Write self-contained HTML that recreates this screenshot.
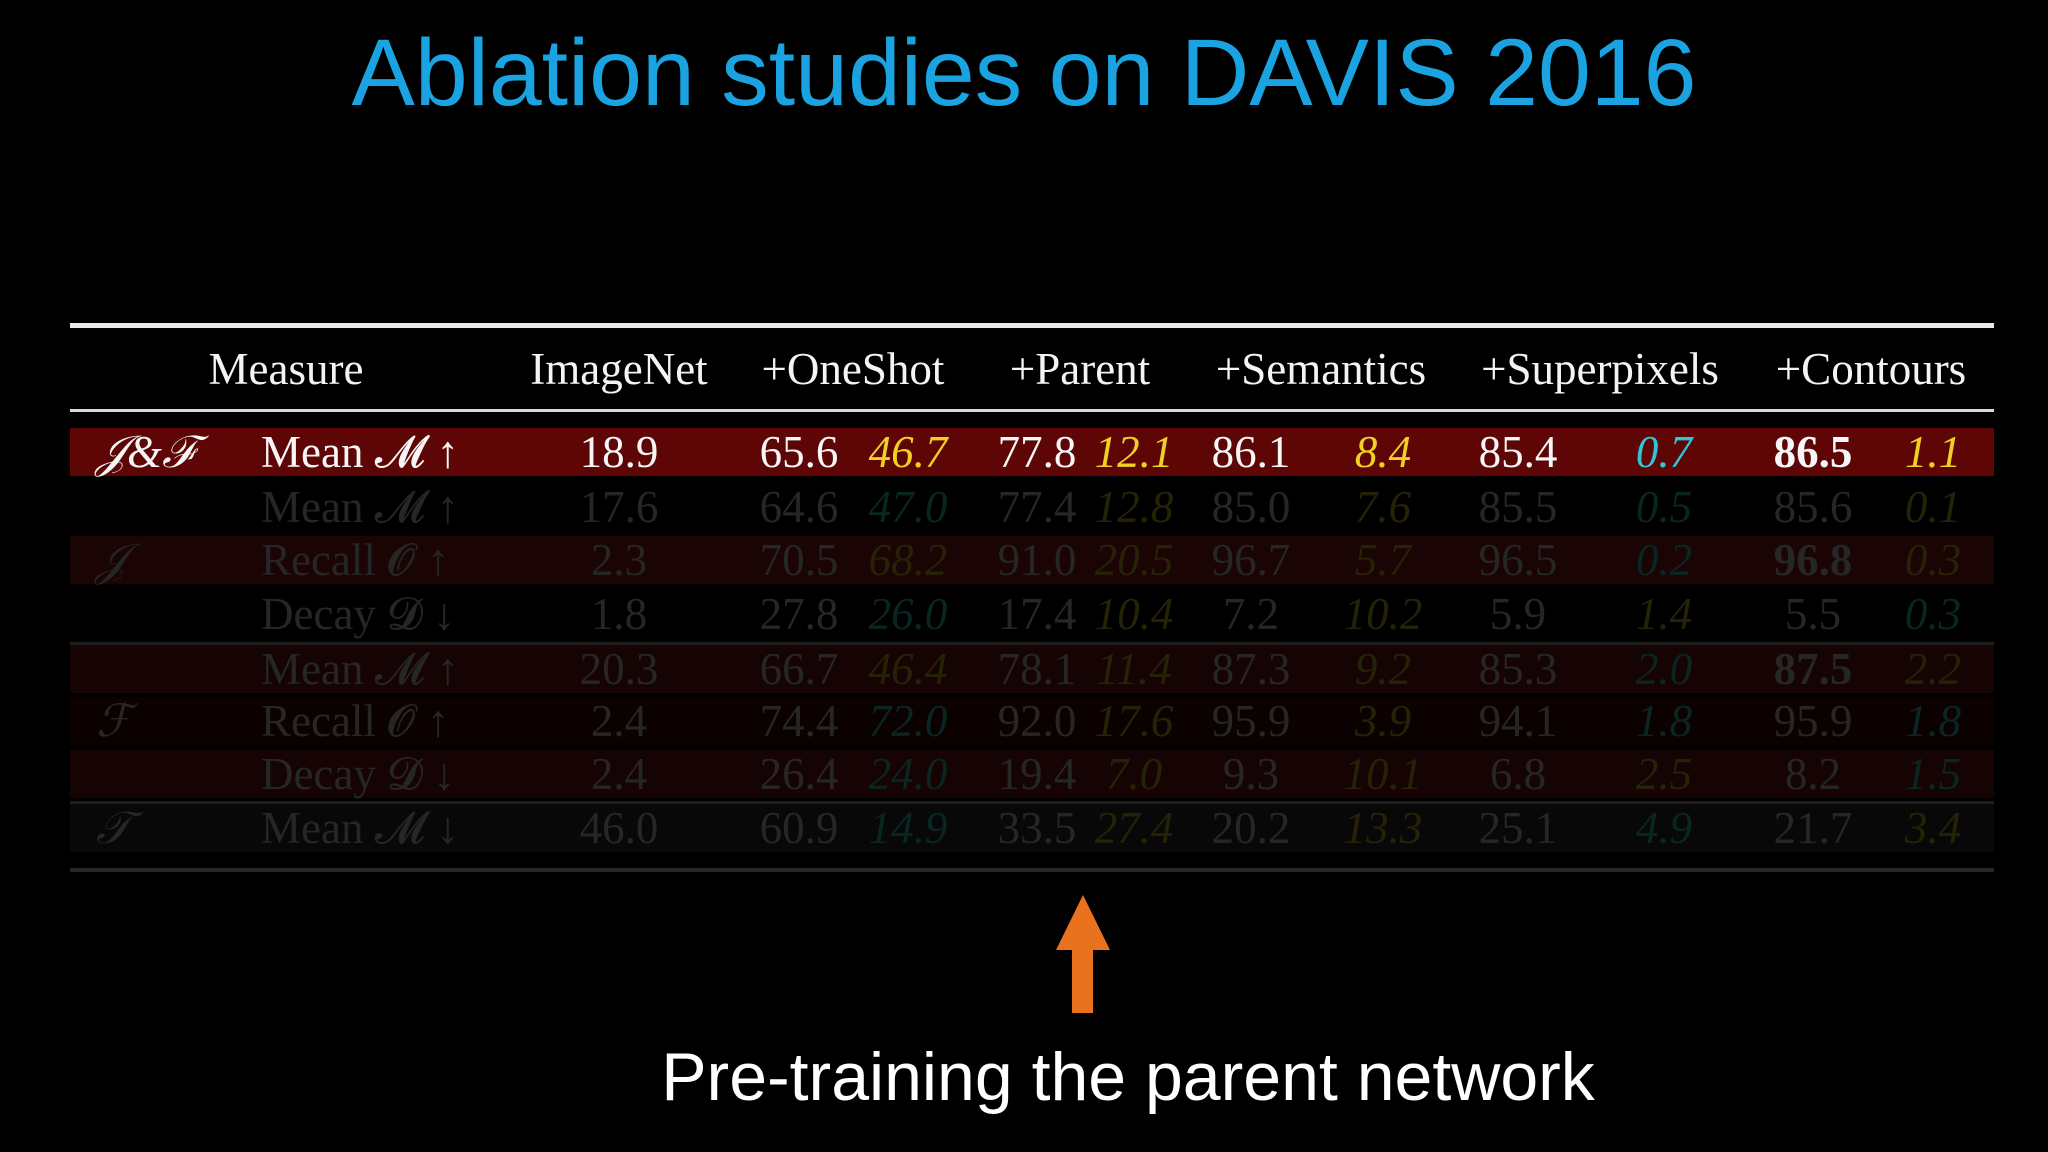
<!DOCTYPE html>
<html><head><meta charset="utf-8"><style>
html,body{margin:0;padding:0;background:#000;width:2048px;height:1152px;overflow:hidden}
svg{display:block}
.t{font-family:"Liberation Serif",serif;font-size:45px}
</style></head><body>
<svg id="s" width="2048" height="1152" viewBox="0 0 2048 1152">
<text x="1024" y="105" text-anchor="middle" font-family="Liberation Sans, sans-serif" font-size="95" fill="#1aa3e0" font-weight="300">Ablation studies on DAVIS 2016</text>
<g id="bg"></g>
<rect x="70" y="323" width="1924" height="5" fill="#e8e8e8"/>
<rect x="70" y="409" width="1924" height="3" fill="#d8d8d8"/>
<rect x="70" y="642" width="1924" height="3" fill="#1e1e1e"/>
<rect x="70" y="801" width="1924" height="3" fill="#1e1e1e"/>
<rect x="70" y="868" width="1924" height="4" fill="#262626"/>
<g id="tbl"></g>
<polygon points="1083,895 1056,950 1072,950 1072,1013 1093,1013 1093,950 1110,950" fill="#e8721e"/>
<text x="1128" y="1100" text-anchor="middle" font-family="Liberation Sans, sans-serif" font-size="68" fill="#ffffff" font-weight="300">Pre-training the parent network</text>
</svg>
<script>
const headers=["Measure","ImageNet","+OneShot","+Parent","+Semantics","+Superpixels","+Contours"];
const headerX=[286,619,853,1080,1321,1600,1871];
const groupLabels=["𝒥&ℱ","","𝒥","","","ℱ","","𝒯"];
const measures=["Mean 𝓜 ↑","Mean 𝓜 ↑","Recall 𝓞 ↑","Decay 𝓓 ↓","Mean 𝓜 ↑","Recall 𝓞 ↑","Decay 𝓓 ↓","Mean 𝓜 ↓"];
const values=[
["18.9","65.6","46.7","77.8","12.1","86.1","8.4","85.4","0.7","86.5","1.1"],
["17.6","64.6","47.0","77.4","12.8","85.0","7.6","85.5","0.5","85.6","0.1"],
["2.3","70.5","68.2","91.0","20.5","96.7","5.7","96.5","0.2","96.8","0.3"],
["1.8","27.8","26.0","17.4","10.4","7.2","10.2","5.9","1.4","5.5","0.3"],
["20.3","66.7","46.4","78.1","11.4","87.3","9.2","85.3","2.0","87.5","2.2"],
["2.4","74.4","72.0","92.0","17.6","95.9","3.9","94.1","1.8","95.9","1.8"],
["2.4","26.4","24.0","19.4","7.0","9.3","10.1","6.8","2.5","8.2","1.5"],
["46.0","60.9","14.9","33.5","27.4","20.2","13.3","25.1","4.9","21.7","3.4"]];
const diffTeal=[[0,0,0,1,0],[1,0,0,1,0],[0,0,0,1,0],[1,0,0,0,1],[0,0,0,1,0],[1,0,0,1,1],[1,0,0,0,1],[1,0,0,1,0]];
const rowY=[452,507,560,614,669,721,774,828];
const rowBg=["#5e0606","#000","#1a0404","#000","#160303","#0c0101","#160303","#080808"];
const colX=[619,799,908,1037,1134,1251,1383,1518,1664,1813,1933];
const NS="http://www.w3.org/2000/svg";
const bg=document.getElementById('bg'),tbl=document.getElementById('tbl');
function txt(x,y,s,fill,anchor,italic,size){const t=document.createElementNS(NS,'text');t.setAttribute('x',x);t.setAttribute('y',y);t.setAttribute('fill',fill);t.setAttribute('text-anchor',anchor);t.setAttribute('class','t');if(italic)t.setAttribute('font-style','italic');if(size)t.setAttribute('font-size',size);t.textContent=s;tbl.appendChild(t);return t;}
headers.forEach((h,i)=>{const t=txt(headerX[i],384,h,'#f4f4f4','middle',false);

});
rowY.forEach((y,r)=>{
 const b=document.createElementNS(NS,'rect');b.setAttribute('x',70);b.setAttribute('y',y-24);b.setAttribute('width',1924);b.setAttribute('height',48);b.setAttribute('fill',rowBg[r]);
 
 
 bg.appendChild(b);
 const main=r===0;
 const c=main?'#f6f6f6':'#262626';
 const by=y+15;
 if(groupLabels[r]){const g=txt(96,by,groupLabels[r],c,'start',true);
  
  }
 const m=txt(261,by,measures[r],c,'start',false);
 
 
 values[r].forEach((v,i)=>{
  const isDiff=(i%2===0&&i>0);
  let col=c;
  if(isDiff){const teal=diffTeal[r][(i-2)/2];col=main?(teal?'#2fc6d6':'#f0d020'):(teal?'#0a2622':'#262206');}
  const t=txt(colX[i],by,v,col,'middle',isDiff,isDiff?33:null);
  if(i===9&&(r===0||r===2||r===4))t.setAttribute('font-weight','bold');
  
  
 });
});
</script>
</body></html>
